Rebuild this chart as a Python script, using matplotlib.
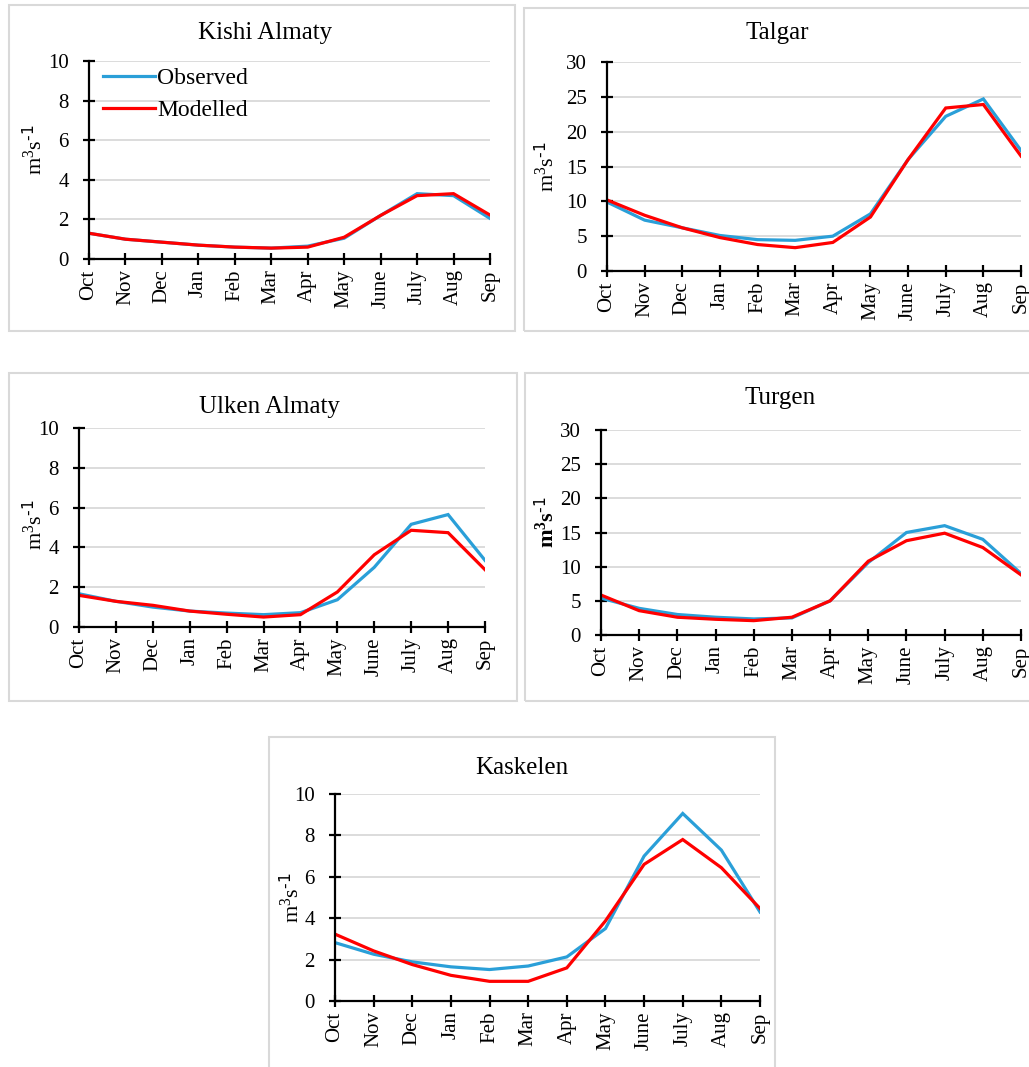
import numpy as np
import matplotlib
matplotlib.use('Agg')
import matplotlib.pyplot as plt
from matplotlib.patches import Rectangle

plt.rcParams['font.family'] = ['Liberation Serif', 'DejaVu Serif']
plt.rcParams['mathtext.default'] = 'regular'

months = ['Oct', 'Nov', 'Dec', 'Jan', 'Feb', 'Mar', 'Apr', 'May', 'June', 'July', 'Aug', 'Sep']

# monthly discharge, observed vs modelled
kishi_obs = [1.3, 1.0, 0.85, 0.7, 0.6, 0.55, 0.65, 1.05, 2.2, 3.3, 3.2, 2.05]
kishi_mod = [1.3, 1.0, 0.85, 0.7, 0.6, 0.55, 0.6, 1.1, 2.2, 3.2, 3.3, 2.22]
talgar_obs = [9.9, 7.3, 6.2, 5.1, 4.5, 4.4, 5.0, 8.2, 16.0, 22.2, 24.7, 17.3]
talgar_mod = [10.2, 8.0, 6.2, 4.8, 3.8, 3.35, 4.1, 7.75, 16.0, 23.4, 23.9, 16.5]
ulken_obs = [1.67, 1.29, 1.0, 0.8, 0.7, 0.62, 0.72, 1.37, 3.0, 5.16, 5.65, 3.35]
ulken_mod = [1.59, 1.29, 1.09, 0.8, 0.64, 0.5, 0.62, 1.76, 3.63, 4.86, 4.74, 2.88]
turgen_obs = [5.4, 3.9, 3.0, 2.6, 2.35, 2.5, 5.0, 10.6, 15.0, 16.0, 14.0, 9.0]
turgen_mod = [5.85, 3.56, 2.6, 2.3, 2.1, 2.6, 5.0, 10.8, 13.8, 14.9, 12.8, 8.8]
kask_obs = [2.82, 2.26, 1.89, 1.65, 1.52, 1.69, 2.13, 3.5, 7.0, 9.06, 7.29, 4.3]
kask_mod = [3.23, 2.42, 1.76, 1.24, 0.95, 0.95, 1.6, 3.87, 6.6, 7.8, 6.44, 4.47]

W, H = 1029, 1067
BLUE = '#2a9fd8'
RED = '#ff0000'


def fx(px):
    return px / W


def fy(py):
    return 1 - py / H


fig = plt.figure(figsize=(W / 100, H / 100), dpi=100)

# name, obs, mod, ymax, step, axes box (px), panel box (px), title pos, ylabel pos, bold ylabel
panels = [
    ('Kishi Almaty', kishi_obs, kishi_mod, 10, 2, (89, 61, 490, 259), (9, 5, 515, 331), (265, 33), (34, 150), False),
    ('Talgar', talgar_obs, talgar_mod, 30, 5, (607, 62, 1021, 271), (524, 8, 1040, 331), (777, 33), (546, 167), False),
    ('Ulken Almaty', ulken_obs, ulken_mod, 10, 2, (79, 428, 485, 627), (9, 373, 517, 701), (269, 407), (34, 525), False),
    ('Turgen', turgen_obs, turgen_mod, 30, 5, (601, 430, 1021, 635), (525, 373, 1040, 701), (780, 398), (546, 522), True),
    ('Kaskelen', kask_obs, kask_mod, 10, 2, (335, 794, 760, 1001), (269, 737, 775, 1080), (522, 768), (291, 898), False),
]

x = np.arange(len(months))

for i, (name, obs, mod, ymax, step, ab, pb, tpos, lpos, bold) in enumerate(panels):
    # light grey frame around each chart
    fig.patches.append(Rectangle((fx(pb[0]), fy(pb[3])), fx(pb[2] - pb[0]), (pb[3] - pb[1]) / H,
                                 transform=fig.transFigure, fill=False,
                                 edgecolor='#d9d9d9', linewidth=1.5, zorder=0))

    ax = fig.add_axes([fx(ab[0]), fy(ab[3]), fx(ab[2] - ab[0]), (ab[3] - ab[1]) / H])
    ax.plot(x, obs, color=BLUE, lw=2.3, label='Observed', solid_joinstyle='miter', zorder=3)
    ax.plot(x, mod, color=RED, lw=2.3, label='Modelled', solid_joinstyle='miter', zorder=4)
    ax.set_xlim(0, 11)
    ax.set_ylim(0, ymax)
    ax.set_yticks(np.arange(0, ymax + 1, step))
    ax.set_xticks(x)
    ax.set_xticklabels(months, rotation=90)
    ax.grid(axis='y', color='#d9d9d9', linewidth=1.3)
    ax.set_axisbelow(True)
    for s in ['top', 'right']:
        ax.spines[s].set_visible(False)
    for s in ['left', 'bottom']:
        ax.spines[s].set_linewidth(1.6)
        ax.spines[s].set_zorder(5)
    ax.tick_params(direction='inout', length=9, width=1.6, labelsize=15)
    ax.tick_params(axis='y', pad=10)
    ax.tick_params(axis='x', pad=3)

    fig.text(fx(tpos[0]), fy(tpos[1]), name, ha='center', va='center', fontsize=18)
    fig.text(fx(lpos[0]), fy(lpos[1]), r'm$^3$s$^{\text{-1}}$', ha='center', va='center',
             rotation=90, fontsize=16, fontweight='bold' if bold else 'normal')

    if i == 0:
        ax.legend(loc='upper left', frameon=False, fontsize=17, handlelength=2.2,
                  handletextpad=0.1, borderaxespad=0.2, labelspacing=0.45,
                  bbox_to_anchor=(0.0, 1.04))

fig.savefig('out.png', dpi=100)
